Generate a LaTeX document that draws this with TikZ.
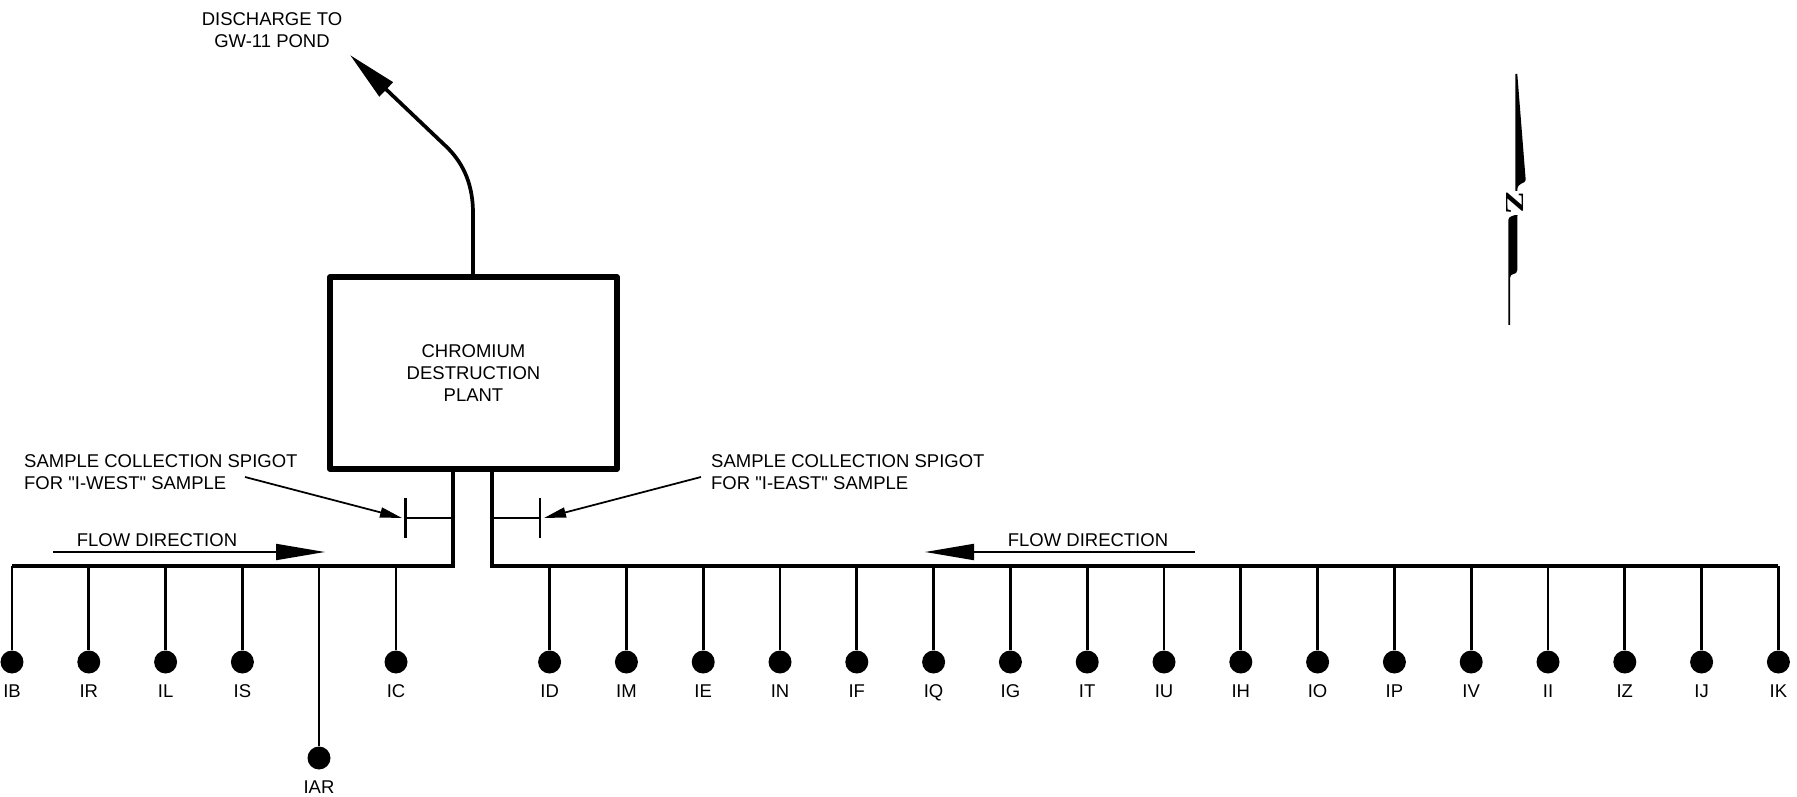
\documentclass[tikz,border=0pt]{standalone}
\usepackage{fontspec}
\setmainfont{Liberation Sans}
\newfontfamily\northfont{Liberation Serif}
\usetikzlibrary{arrows.meta, positioning, calc}
\tikzset{
  font=\fontsize{5.26pt}{6.2pt}\selectfont,
  lbl/.style={inner sep=0pt, align=center},
  lblleft/.style={inner sep=0pt, align=left, anchor=west},
  plantbox/.style={draw, line width=1.5pt, line join=round, minimum width=2.87cm, minimum height=1.92cm, lbl},
  header/.style={line width=1.25pt, line join=miter},
  drop/.style={line width=0.8pt},
  stub/.style={line width=0.6pt},
  lead/.style={line width=0.5pt, -{Stealth[inset=0pt, length=0.22cm, width=0.1cm]}},
  flowdir/.style={line width=0.55pt, -{Stealth[inset=0pt, length=0.49cm, width=0.16cm]}},
  discharge/.style={line width=1.05pt, -{Stealth[inset=0pt, length=0.5cm, width=0.19cm]}},
  well/.style={circle, fill=black, inner sep=0pt, minimum size=0.23cm},
}
\begin{document}
\begin{tikzpicture}[x=1cm, y=1cm]
  \useasboundingbox (0,0) rectangle (17.97,7.96);

  \node[lbl] (dischargelbl) at (2.72,7.66) {DISCHARGE TO\\GW-11 POND};
  \node[plantbox] (plant) at (4.735,4.23) {CHROMIUM\\DESTRUCTION\\PLANT};

  \coordinate (dischargeend) at (3.50,7.41);
  \draw[discharge] (plant.north -| 4.73,0) -- (4.73,5.83)
    .. controls (4.73,6.16) and (4.60,6.36) .. (4.467,6.49) -- (dischargeend);

  % header pipes
  \coordinate (westtop) at (4.53,3.26);
  \coordinate (westend) at (0.12,2.30);
  \coordinate (easttop) at (4.92,3.26);
  \coordinate (eastend) at (17.78,2.30);
  \draw[header] (westtop) -- (4.53,2.30) -- (westend);
  \draw[header] (easttop) -- (4.92,2.30) -- (eastend);

  % wells
  \foreach \wname/\wnum in {IB/0, IR/1, IL/2, IS/3, IC/5, ID/7, IM/8, IE/9, IN/10, IF/11, IQ/12,
      IG/13, IT/14, IU/15, IH/16, IO/17, IP/18, IV/19, II/20, IZ/21, IJ/22, IK/23} {
    \coordinate (top\wname) at ({0.12+0.768*\wnum},2.30);
    \node[well] (w\wname) at ({0.12+0.768*\wnum},1.34) {};
    \node[lbl, below=0.10cm of w\wname] (l\wname) {\wname};
    \draw[drop] (top\wname) -- (w\wname);
  }
  \coordinate (topIAR) at (3.19,2.30);
  \node[well] (wIAR) at (3.19,0.38) {};
  \node[lbl, below=0.10cm of wIAR] (lIAR) {IAR};
  \draw[drop] (topIAR) -- (wIAR);

  % spigots
  \coordinate (stubw) at (4.53,2.78);
  \coordinate (stube) at (4.92,2.78);
  \coordinate (tickw) at (4.055,2.78);
  \coordinate (ticke) at (5.40,2.78);
  \draw[stub] (stubw) -- (tickw);
  \draw[stub] (tickw |- 0,2.98) -- (tickw |- 0,2.58);
  \draw[stub] (stube) -- (ticke);
  \draw[stub] (ticke |- 0,2.98) -- (ticke |- 0,2.58);

  \node[lblleft] (westlbl) at (0.235,3.24) {SAMPLE COLLECTION SPIGOT\\FOR \textquotedbl I-WEST\textquotedbl{} SAMPLE};
  \node[lblleft] (eastlbl) at (7.105,3.24) {SAMPLE COLLECTION SPIGOT\\FOR \textquotedbl I-EAST\textquotedbl{} SAMPLE};
  \coordinate (westfrom) at (2.45,3.19);
  \coordinate (westtip) at (4.02,2.78);
  \coordinate (eastfrom) at (7.01,3.19);
  \coordinate (easttip) at (5.44,2.78);
  \draw[lead] (westfrom) -- (westtip);
  \draw[lead] (eastfrom) -- (easttip);

  % flow direction
  \node[lbl] (flowwest) at (1.57,2.56) {FLOW DIRECTION};
  \node[lbl] (floweast) at (10.88,2.56) {FLOW DIRECTION};
  \coordinate (fwa) at (0.53,2.44);
  \coordinate (fwb) at (3.25,2.44);
  \coordinate (fea) at (11.95,2.44);
  \coordinate (feb) at (9.25,2.44);
  \draw[flowdir] (fwa) -- (fwb);
  \draw[flowdir] (fea) -- (feb);

  % north arrow
  \fill (15.153,7.22) -- (15.173,7.22) -- (15.257,6.16)
    .. controls (15.257,6.12) and (15.173,6.14) .. (15.173,6.06) -- (15.173,5.80) -- (15.153,5.80) -- cycle;
  \fill (15.083,5.76) .. controls (15.083,5.80) and (15.14,5.80) .. (15.173,5.82)
    -- (15.173,5.26) .. controls (15.173,5.20) and (15.10,5.24) .. (15.10,5.18)
    -- (15.10,4.71) -- (15.083,4.71) -- cycle;
  \node[fill=white, inner sep=0.2pt, rotate=-90, xscale=1.3, font=\northfont\bfseries\fontsize{7.4pt}{7.4pt}\selectfont] (north) at (15.155,5.93) {Z};
\end{tikzpicture}
\end{document}
